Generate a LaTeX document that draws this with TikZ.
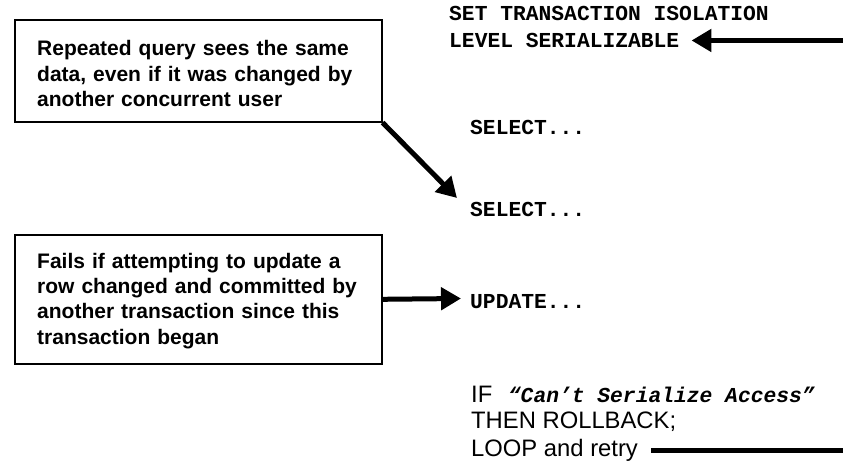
\documentclass[tikz,border=0pt]{standalone}
\usepackage{fontspec}
\setmainfont{Liberation Sans}
\setmonofont{Liberation Mono}
\usetikzlibrary{arrows.meta}
\begin{document}
\begin{tikzpicture}[x=1pt,y=-1pt,
  callout/.style={draw=black, line width=1.6pt, minimum width=367pt, inner sep=0pt, anchor=north west},
  note/.style={font=\fontsize{21}{25.5}\selectfont\bfseries, text width=335pt, align=left, inner sep=0pt, anchor=base west},
  code/.style={font=\fontsize{21.3}{27}\selectfont\ttfamily\bfseries, inner sep=0pt, anchor=base west},
  plain/.style={font=\fontsize{23.8}{27.5}\selectfont, inner sep=0pt, anchor=base west},
  bigarrow/.style={line width=5pt, -{Triangle[length=20pt,width=22pt]}},
  bar/.style={line width=5pt}]
\useasboundingbox (0,0) rectangle (843,465);
% callout boxes
\node[callout, minimum height=102pt] (box1) at (14,19) {};
\node[callout, minimum height=129pt] (box2) at (14,234) {};
\node[note] (txt1) at (37,56) {Repeated query sees the same\\data, even if it was changed by\\another concurrent user};
\node[note] (txt2) at (37,268) {Fails if attempting to update a\\row changed and committed by\\another transaction since this\\transaction began};
% code lines
\node[code] (set1) at (449,21) {SET TRANSACTION ISOLATION};
\node[code] (set2) at (449,47.5) {LEVEL SERIALIZABLE};
\node[code] (sel1) at (470,135) {SELECT...};
\node[code] (sel2) at (470,217) {SELECT...};
\node[code] (upd) at (470,308) {UPDATE...};
\node[plain] (if1) at (471,402) {IF\hspace{9pt} {\fontsize{21.3}{27}\selectfont\ttfamily\bfseries\itshape “Can’t Serialize Access”}};
\node[plain] (then1) at (471,428.5) {THEN ROLLBACK;};
\node[plain] (loop1) at (471,456.5) {LOOP and retry};
% free ends
\coordinate (rA) at (843,0);
\coordinate (t1) at (457,198);
\coordinate (t2) at (461,298.5);
% connectors
\draw[bigarrow] (set2.east -| rA) -- ([xshift=12pt]set2.east);
\draw[bigarrow] (box1.south east) -- (t1);
\draw[bigarrow] (box2.east) -- (t2);
\draw[bar] ([xshift=13pt]loop1.east) -- (loop1.east -| rA);
\end{tikzpicture}
\end{document}
